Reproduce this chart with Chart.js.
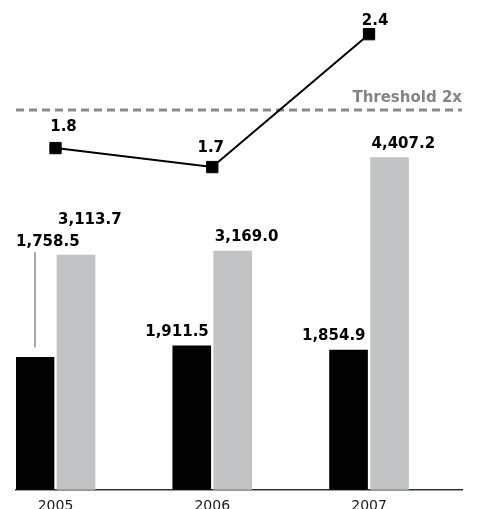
<!DOCTYPE html>
<html>
<head>
<meta charset="utf-8">
<script src="https://cdn.jsdelivr.net/npm/chart.js@4/dist/chart.umd.min.js"></script>
<style>
  html, body { margin: 0; padding: 0; background: #fff; }
  #chart { display: block; }
</style>
</head>
<body>
<canvas id="chart" width="479" height="509"></canvas>
<script>
// ===== DATA =====
const years      = ['2005', '2006', '2007'];
const blackVals  = [1758.5, 1911.5, 1854.9];
const grayVals   = [3113.7, 3169.0, 4407.2];
const ratioVals  = [1.8, 1.7, 2.4];
const threshold  = 2.0;
const thresholdLabel = 'Threshold 2x';

const BOLD = 'bold 15px "DejaVu Sans", Verdana, sans-serif';
const fmt = v => v.toLocaleString('en-US', { minimumFractionDigits: 1, maximumFractionDigits: 1 });

// dashed threshold line + its caption, drawn under the datasets
const thresholdPlugin = {
  id: 'threshold',
  beforeDatasetsDraw(chart) {
    const { ctx, chartArea, scales } = chart;
    const y = scales.y1.getPixelForValue(threshold);
    ctx.save();
    ctx.strokeStyle = '#8a8a8a';
    ctx.lineWidth = 3;
    ctx.setLineDash([8, 5]);
    ctx.beginPath();
    ctx.moveTo(chartArea.left, y);
    ctx.lineTo(chartArea.right, y);
    ctx.stroke();
    ctx.setLineDash([]);
    ctx.fillStyle = '#858585';
    ctx.font = BOLD;
    ctx.textAlign = 'right';
    ctx.textBaseline = 'alphabetic';
    ctx.fillText(thresholdLabel, chartArea.right, y - 8);
    ctx.restore();
  }
};

// value labels over bars and points
const labelPlugin = {
  id: 'valueLabels',
  afterDatasetsDraw(chart) {
    const { ctx } = chart;
    ctx.save();
    ctx.font = BOLD;
    ctx.fillStyle = '#000';
    ctx.textBaseline = 'alphabetic';

    // black bars: right aligned to the bar edge
    chart.getDatasetMeta(0).data.forEach((bar, i) => {
      const right = bar.x + bar.width / 2;
      const left = bar.x - bar.width / 2;
      if (i === 0) {
        // first one sits higher, tied to the bar with a leader
        const top = bar.y - 111;
        ctx.textAlign = 'left';
        ctx.fillText(fmt(blackVals[i]), left, top);
        ctx.strokeStyle = '#8a8a8a';
        ctx.lineWidth = 1.5;
        ctx.beginPath();
        ctx.moveTo(bar.x, top + 6);
        ctx.lineTo(bar.x, bar.y - 10);
        ctx.stroke();
      } else {
        ctx.textAlign = 'right';
        ctx.fillText(fmt(blackVals[i]), right - 2, bar.y - 10);
      }
    });

    // gray bars: left aligned to the bar edge
    chart.getDatasetMeta(1).data.forEach((bar, i) => {
      const left = bar.x - bar.width / 2;
      ctx.textAlign = 'left';
      const lift = i === 0 ? 31 : 10;
      ctx.fillText(fmt(grayVals[i]), left + 1, bar.y - lift);
    });

    // ratio points
    const dx = [8, -1.5, 6];
    const dy = [-17, -15, -9];
    chart.getDatasetMeta(2).data.forEach((pt, i) => {
      ctx.textAlign = 'center';
      ctx.fillText(ratioVals[i].toFixed(1), pt.x + dx[i], pt.y + dy[i]);
    });
    ctx.restore();
  }
};

new Chart(document.getElementById('chart'), {
  type: 'bar',
  data: {
    datasets: [
      {
        data: blackVals.map((v, i) => ({ x: i, y: v })),
        backgroundColor: '#000',
        barThickness: 41,
        maxBarThickness: 38,
        yAxisID: 'y',
        order: 2
      },
      {
        data: grayVals.map((v, i) => ({ x: i, y: v })),
        backgroundColor: '#c1c3c5',
        barThickness: 41,
        maxBarThickness: 38,
        yAxisID: 'y',
        order: 2
      },
      {
        type: 'line',
        data: ratioVals.map((v, i) => ({ x: i, y: v })),
        borderColor: '#000',
        borderWidth: 2,
        pointStyle: 'rect',
        pointRadius: 8,
        pointBorderWidth: 1,
        pointBackgroundColor: '#000',
        pointBorderColor: '#000',
        tension: 0,
        yAxisID: 'y1',
        order: 1
      }
    ]
  },
  options: {
    responsive: false,
    animation: false,
    events: [],
    layout: { autoPadding: false, padding: { left: 16, right: 17, top: 0, bottom: -13.2 } },
    plugins: { legend: { display: false }, tooltip: { enabled: false } },
    scales: {
      x: {
        type: 'linear',
        offset: false,
        min: -0.252,
        max: 2.593,
        grid: { display: false, drawTicks: false },
        border: { display: true, color: '#333', width: 1.5 },
        ticks: {
          stepSize: 1,
          autoSkip: false,
          maxRotation: 0,
          padding: 12,
          color: '#1a1a1a',
          font: { family: '"DejaVu Sans", Verdana, sans-serif', size: 14, lineHeight: 0.6 },
          callback: v => Number.isInteger(v) ? years[v] : ''
        }
      },
      y:  { display: false, min: 0, max: 6500 },
      y1: { display: false, min: 0, max: 2.58 }
    }
  },
  plugins: [thresholdPlugin, labelPlugin]
});
</script>
</body>
</html>
